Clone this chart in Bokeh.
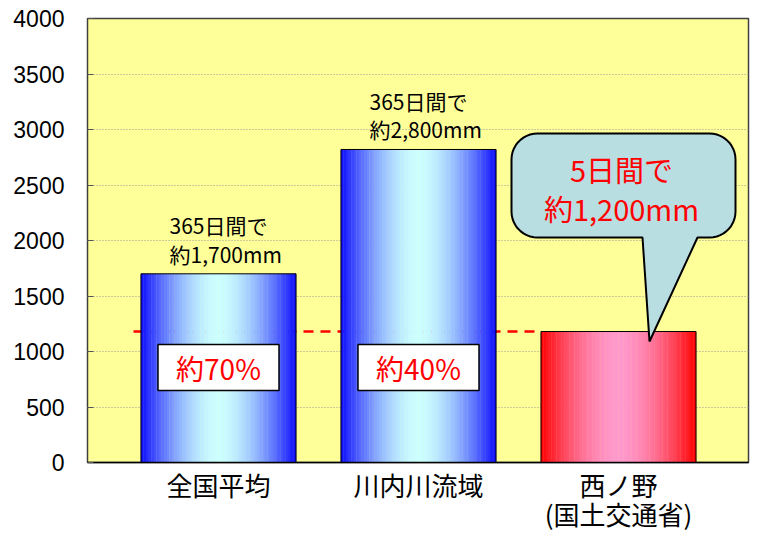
import numpy as np
from bokeh.plotting import figure
from bokeh.models import Range1d, FixedTicker
from bokeh.embed import file_html
from bokeh.resources import INLINE
from bokeh.core.properties import value

# ---- data ----
categories = ["全国平均", "川内川流域", "西ノ野\n(国土交通省)"]
rainfall = [1700, 2820, 1180]
bar_notes = ["365日間で\n約1,700mm", "365日間で\n約2,800mm"]
pct_labels = ["約70%", "約40%"]
callout_text = "5日間で\n約1,200mm"
y_ticks = [0, 500, 1000, 1500, 2000, 2500, 3000, 3500, 4000]

JP = "Noto Sans CJK JP"

p = figure(width=772, height=535, output_backend="svg", toolbar_location=None,
           x_range=Range1d(-0.655, 2.65), y_range=Range1d(0, 4000),
           min_border_left=87, min_border_right=24, min_border_top=18,
           min_border_bottom=72)
p.background_fill_color = "#FFFF99"
p.border_fill_color = "white"
p.outline_line_color = "#404040"
p.outline_line_width = 1.5

# axes
p.xaxis.ticker = FixedTicker(ticks=list(range(len(categories))))
p.xaxis.major_label_overrides = {i: c for i, c in enumerate(categories)}
p.xaxis.major_label_text_font = JP
p.xaxis.major_label_text_font_size = "26px"
p.xaxis.major_label_text_color = "black"
p.xaxis.major_label_text_line_height = 0.8
p.xaxis.major_label_standoff = 3
p.xaxis.major_tick_out = 0
p.xaxis.major_tick_in = 0
p.xaxis.minor_tick_line_color = None
p.xaxis.axis_line_color = "black"
p.xaxis.axis_line_width = 1.5

p.yaxis.ticker = FixedTicker(ticks=y_ticks)
p.yaxis.major_label_text_font = "Liberation Sans"
p.yaxis.major_label_text_font_size = "23px"
p.yaxis.major_label_text_color = "black"
p.yaxis.major_label_standoff = 23
p.yaxis.major_tick_out = 0
p.yaxis.major_tick_in = 6
p.yaxis.major_tick_line_color = "#555555"
p.yaxis.minor_tick_line_color = None
p.yaxis.axis_line_color = None

p.xgrid.grid_line_color = None
p.ygrid.grid_line_color = "#999999"
p.ygrid.grid_line_dash = "1 2"
p.ygrid.grid_line_width = 1

bw = 0.775

# reference dashed line at the Nishinono value, up to that bar's left edge
p.segment(x0=[-0.425], y0=[rainfall[2]], x1=[2 - bw / 2], y1=[rainfall[2]],
          line_color="#FF0000", line_width=2.5, line_dash="10 7")

# gradient bars (sliced into strips)
N = 60
edge_cols = [(10, 10, 255), (10, 10, 255), (255, 0, 0)]
center_cols = [(204, 255, 255), (204, 255, 255), (255, 153, 204)]
xs, tops, cols = [], [], []
for i, v in enumerate(rainfall):
    e = np.array(edge_cols[i], float)
    c = np.array(center_cols[i], float)
    for k in range(N):
        f = (k + 0.5) / N
        t = abs(2 * f - 1) ** 1.7
        rgb = c + (e - c) * t
        xs.append(i - bw / 2 + f * bw)
        tops.append(v)
        cols.append("#%02x%02x%02x" % tuple(int(round(z)) for z in rgb))
p.vbar(x=xs, top=tops, bottom=0, width=bw / N * 1.15, fill_color=cols, line_color=None)
p.vbar(x=list(range(len(rainfall))), top=rainfall, bottom=0, width=bw,
       fill_color=None, line_color="black", line_width=1)

# notes above bars
for i, note in enumerate(bar_notes):
    p.text(x=[i - 0.245], y=[rainfall[i]], text=[note], y_offset=-5,
           text_font=value(JP), text_font_size="21px", text_color="black",
           text_align="left", text_baseline="bottom", text_line_height=0.95)

# percentage boxes
for i, lab in enumerate(pct_labels):
    yc = rainfall[2] - 325
    p.rect(x=[i], y=[yc], width=121, height=46, width_units="screen",
           height_units="screen", fill_color="white", line_color="black", line_width=1.5)
    p.text(x=[i], y=[yc], text=[lab], text_font=value(JP), text_font_size="28px",
           text_color="#FF0000", text_align="center", text_baseline="middle")

# callout balloon
def arc(cx, cy, rx, ry, a0, a1, n=12):
    a = np.radians(np.linspace(a0, a1, n))
    return list(cx + rx * np.cos(a)), list(cy + ry * np.sin(a))

left, right, bottom, top = 1.465, 2.585, 2027, 2964
rx, ry = 0.13, 234
bx, by = [], []
for (cx, cy, a0, a1) in [(right - rx, top - ry, 90, 0), (right - rx, bottom + ry, 0, -90)]:
    ax, ay = arc(cx, cy, rx, ry, a0, a1)
    bx += ax; by += ay
bx += [2.395, 2.155, 2.12]
by += [bottom, rainfall[2] - 90, bottom]
for (cx, cy, a0, a1) in [(left + rx, bottom + ry, -90, -180), (left + rx, top - ry, 180, 90)]:
    ax, ay = arc(cx, cy, rx, ry, a0, a1)
    bx += ax; by += ay
p.patch(bx, by, fill_color="#B8DEE2", line_color="black", line_width=2)
p.text(x=[2.015], y=[2468], text=[callout_text], text_font=value(JP),
       text_font_size="29px", text_color="#FF0000", text_align="center",
       text_baseline="middle", text_line_height=0.95)

open("out.html", "w").write(file_html(p, INLINE))
